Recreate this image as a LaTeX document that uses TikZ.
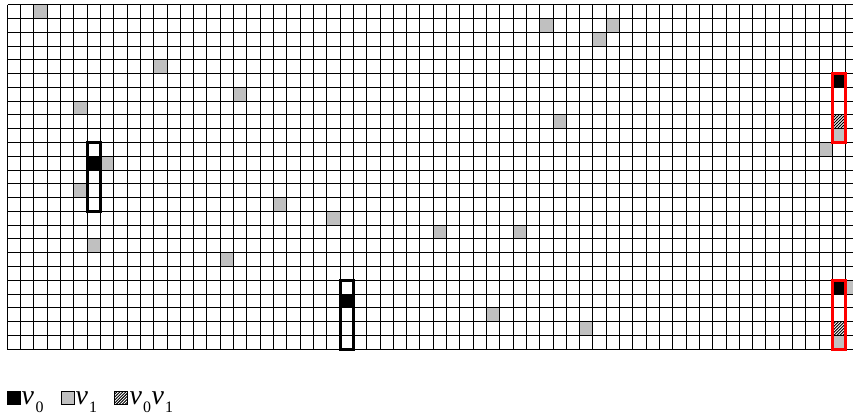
\documentclass[tikz,border=0pt]{standalone}
\usepackage{fontspec}
\setmainfont{Liberation Serif}
\usetikzlibrary{patterns}
\definecolor{cellgray}{RGB}{192,192,192}
\pgfdeclarepatternformonly{myhatch}{\pgfqpoint{-1pt}{-1pt}}{\pgfqpoint{4pt}{4pt}}{\pgfqpoint{3pt}{3pt}}%
{\pgfsetlinewidth{0.9pt}\pgfpathmoveto{\pgfqpoint{-0.1pt}{-0.1pt}}\pgfpathlineto{\pgfqpoint{3.1pt}{3.1pt}}\pgfusepath{stroke}}
\tikzset{
  gridline/.style={draw=black, line width=1.2bp},
  graycell/.style={fill=cellgray},
  blackcell/.style={fill=black},
  hatchcell/.style={pattern=myhatch, pattern color=black},
  blackframe/.style={draw=black, line width=2.8bp},
  redframe/.style={draw=red, line width=2.8bp},
  legbox/.style={draw=black, line width=0.9bp},
  vtext/.style={anchor=base west, inner sep=0pt, font=\fontsize{28}{28}\selectfont\itshape},
  subtext/.style={anchor=base west, inner sep=0pt, font=\fontsize{16}{16}\selectfont},
}
\def\cw{13.31}
\def\ch{13.78}
\def\gx{7.33}
\def\gy{4.7}
% snapped grid coordinates
\newcommand\gridX[2]{\pgfmathsetmacro#1{floor(\gx+(#2)*\cw)+0.5}}
\newcommand\gridY[2]{\pgfmathsetmacro#1{floor(\gy+(#2)*\ch)+0.5}}
\newcommand\mycell[3]{%
  \gridX\xa{#2}\gridX\xb{#2+1}\gridY\ya{#3}\gridY\yb{#3+1}%
  \fill[#1] (\xa,\ya) rectangle (\xb,\yb);}
\newcommand\myframe[4]{%
  \gridX\xa{#2}\gridX\xb{#2+1}\gridY\ya{#3}\gridY\yb{#4}%
  \draw[#1] (\xa,\ya) rectangle (\xb,\yb);}
\begin{document}
\begin{tikzpicture}[x=1bp,y=-1bp]
\useasboundingbox (0,0) rectangle (853,419);
\fill[white] (0,0) rectangle (853,419);
\begin{scope}
\clip (0,0) rectangle (853,419);
% gray cells
\foreach \c/\r in {2/0,40/1,45/1,44/2,11/4,17/6,5/7,41/8,61/10,7/11,5/13,20/14,24/15,32/16,38/16,6/17,16/18,36/22,43/23,62/9,62/24,63/20}
  {\mycell{graycell}{\c}{\r}}
% black cells
\foreach \c/\r in {6/11,25/21,62/5,62/20}
  {\mycell{blackcell}{\c}{\r}}
% hatched cells
\foreach \c/\r in {62/8,62/23}
  {\mycell{hatchcell}{\c}{\r}}
% grid
\gridX\xl{0}\gridX\xr{63}\gridY\yt{0}\gridY\ybot{25}
\foreach \r in {0,...,25}
  {\gridY\yy{\r}\draw[gridline] (\xl,\yy) -- (853,\yy);}
\foreach \c in {0,...,63}
  {\gridX\xx{\c}\draw[gridline] (\xx,\yt) -- (\xx,\ybot);}
% frames
\myframe{blackframe}{6}{10}{15}
\myframe{blackframe}{25}{20}{25}
\myframe{redframe}{62}{5}{10}
\myframe{redframe}{62}{20}{25}
\end{scope}
% legend
\filldraw[legbox, fill=black] (7.5,391.5) rectangle (20.5,404.5);
\filldraw[legbox, fill=cellgray] (61.5,391.5) rectangle (74.5,404.5);
\draw[legbox, pattern=myhatch] (114.5,391.5) rectangle (127.5,404.5);
\node[vtext] (va) at (21.5,404) {v};
\node[subtext] (sa) at (35.5,412) {0};
\node[vtext] (vb) at (75.5,404) {v};
\node[subtext] (sb) at (89,412) {1};
\node[vtext] (vc) at (129.5,404) {v};
\node[subtext] (sc) at (143,412) {0};
\node[vtext] (vd) at (151.5,404) {v};
\node[subtext] (sd) at (165,412) {1};
\end{tikzpicture}
\end{document}
